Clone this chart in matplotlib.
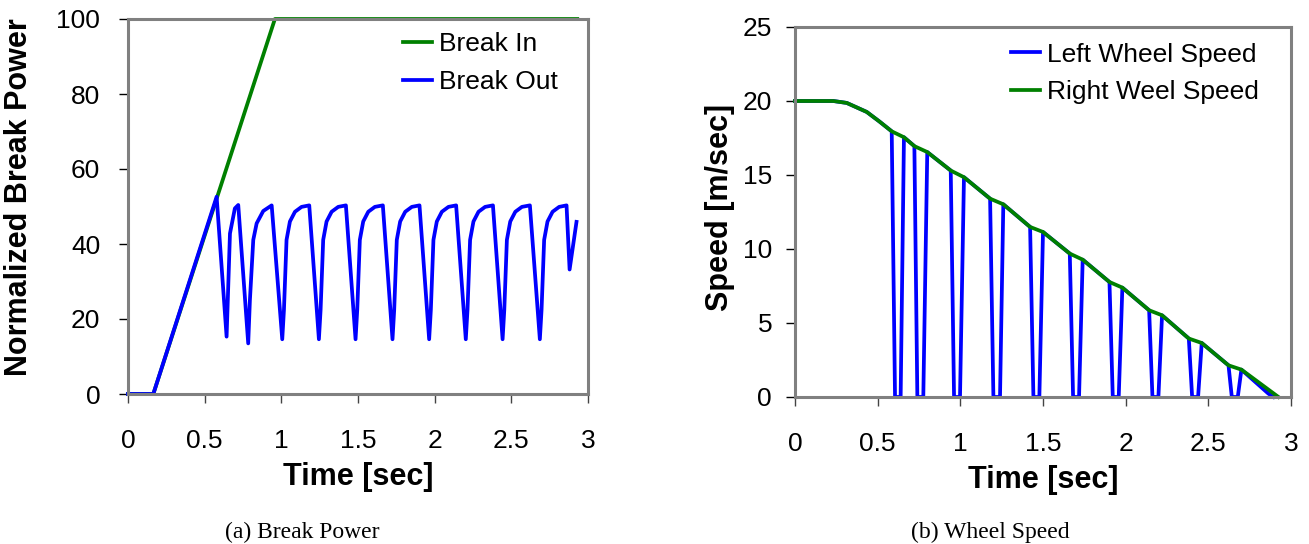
"""
Break power and wheel speed plots (two panels)
"""
import matplotlib
matplotlib.use('Agg')
import matplotlib.pyplot as plt

# --- panel (a): normalized break power ---
brk_in_t = [0.0, 0.165, 0.958, 2.93]
brk_in_v = [0.0, 0.0, 100.0, 100.0]

brk_out_t = [0.0, 0.165, 0.578, 0.643, 0.665, 0.697, 0.719, 0.784, 0.795, 0.817,
             0.839, 0.882, 0.937,
             1.006, 1.017, 1.034, 1.056, 1.089, 1.132, 1.182,
             1.245, 1.256, 1.273, 1.295, 1.328, 1.371, 1.421,
             1.484, 1.495, 1.512, 1.534, 1.567, 1.610, 1.662,
             1.725, 1.736, 1.753, 1.775, 1.808, 1.851, 1.901,
             1.964, 1.975, 1.992, 2.014, 2.047, 2.090, 2.140,
             2.203, 2.214, 2.231, 2.253, 2.286, 2.329, 2.380,
             2.443, 2.454, 2.471, 2.493, 2.526, 2.569, 2.621,
             2.686, 2.697, 2.714, 2.736, 2.769, 2.812, 2.860,
             2.880, 2.925]
brk_out_v = [0.0, 0.0, 52.6, 15.3, 42.8, 49.5, 50.4, 13.5, 25.0, 41.1,
             45.5, 48.8, 50.3,
             14.6, 22.4, 41.1, 46.0, 48.6, 49.9, 50.3,
             14.6, 22.4, 41.1, 46.0, 48.6, 49.9, 50.3,
             14.6, 22.4, 41.1, 46.0, 48.6, 49.9, 50.3,
             14.6, 22.4, 41.1, 46.0, 48.6, 49.9, 50.3,
             14.6, 22.4, 41.1, 46.0, 48.6, 49.9, 50.3,
             14.6, 22.4, 41.1, 46.0, 48.6, 49.9, 50.3,
             14.6, 22.4, 41.1, 46.0, 48.6, 49.9, 50.3,
             14.6, 22.4, 41.1, 46.0, 48.6, 49.9, 50.3,
             33.2, 45.9]

# --- panel (b): wheel speeds ---
right_t = [0.0, 0.232, 0.313, 0.434, 0.510, 0.585, 0.659, 0.722, 0.800,
           0.942, 1.022, 1.180, 1.260, 1.422, 1.500, 1.662, 1.740,
           1.902, 1.980, 2.142, 2.220, 2.382, 2.460, 2.622, 2.700, 2.924]
right_v = [20.0, 20.0, 19.87, 19.26, 18.62, 17.95, 17.55, 16.95, 16.55,
           15.30, 14.85, 13.40, 13.02, 11.49, 11.15, 9.69, 9.28,
           7.77, 7.39, 5.86, 5.52, 3.95, 3.65, 2.14, 1.85, 0.0]

left_t = [0.0, 0.232, 0.313, 0.434, 0.510,
          0.585, 0.605, 0.639, 0.659,
          0.722, 0.740, 0.776, 0.800,
          0.942, 0.962, 0.998, 1.022,
          1.180, 1.200, 1.240, 1.260,
          1.422, 1.442, 1.478, 1.500,
          1.662, 1.682, 1.718, 1.740,
          1.902, 1.922, 1.958, 1.980,
          2.142, 2.162, 2.198, 2.220,
          2.382, 2.402, 2.438, 2.460,
          2.622, 2.642, 2.678, 2.700,
          2.863, 2.894]
left_v = [20.0, 20.0, 19.87, 19.26, 18.62,
          17.95, 0.0, 0.0, 17.55,
          16.95, 0.0, 0.0, 16.55,
          15.30, 0.0, 0.0, 14.85,
          13.40, 0.0, 0.0, 13.02,
          11.49, 0.0, 0.0, 11.15,
          9.69, 0.0, 0.0, 9.28,
          7.77, 0.0, 0.0, 7.39,
          5.86, 0.0, 0.0, 5.52,
          3.95, 0.0, 0.0, 3.65,
          2.14, 0.0, 0.0, 1.85,
          0.23, 0.0]

time_ticks = [0, 0.5, 1, 1.5, 2, 2.5, 3]
time_labels = ['0', '0.5', '1', '1.5', '2', '2.5', '3']

plt.rcParams['font.family'] = ['Liberation Sans', 'DejaVu Sans']

GREEN = '#008000'
BLUE = '#0000FF'
SPINE = '#808080'


def style_axes(ax, ypad):
    for side in ['top', 'right', 'left', 'bottom']:
        ax.spines[side].set_color(SPINE)
        ax.spines[side].set_linewidth(2.2)
    ax.tick_params(axis='y', direction='out', length=6.5, width=1, color='black',
                   labelsize=19, pad=ypad)
    ax.tick_params(axis='x', direction='out', length=6.5, width=1, color='#444444',
                   labelsize=19, pad=19)
    ax.set_xlim(0, 3)
    ax.set_xticks(time_ticks)
    ax.set_xticklabels(time_labels)
    ax.set_xlabel('Time [sec]', fontsize=22, fontweight='bold', labelpad=6)


fig = plt.figure(figsize=(13.09, 5.44), dpi=100)

# (a) Break Power
ax1 = fig.add_axes([128 / 1309, 150 / 544, 460 / 1309, 375 / 544])
ax1.plot(brk_in_t, brk_in_v, color=GREEN, linewidth=2.7, label='Break In',
         clip_on=False, solid_joinstyle='round')
ax1.plot(brk_out_t, brk_out_v, color=BLUE, linewidth=2.7, label='Break Out',
         clip_on=False, solid_joinstyle='round')
ax1.set_ylim(0, 100)
ax1.set_yticks([0, 20, 40, 60, 80, 100])
style_axes(ax1, 13.5)
ax1.set_ylabel('Normalized Break Power', fontsize=22, fontweight='bold')
ax1.yaxis.set_label_coords(-0.205, 0.526)
ax1.legend(loc='upper left', bbox_to_anchor=(0.598, 0.965), frameon=False,
           fontsize=19, handlelength=1.1, handletextpad=0.25, labelspacing=0.52,
           borderpad=0, borderaxespad=0)

# (b) Wheel Speed
ax2 = fig.add_axes([795 / 1309, 147 / 544, 496 / 1309, 370 / 544])
ax2.plot(left_t, left_v, color=BLUE, linewidth=2.7, label='Left Wheel Speed',
         clip_on=False, solid_joinstyle='round')
ax2.plot(right_t, right_v, color=GREEN, linewidth=2.7, label='Right Weel Speed',
         clip_on=False, solid_joinstyle='round')
ax2.set_ylim(0, 25)
ax2.set_yticks([0, 5, 10, 15, 20, 25])
style_axes(ax2, 10)
ax2.set_ylabel('Speed [m/sec]', fontsize=22, fontweight='bold')
ax2.yaxis.set_label_coords(-0.12, 0.511)
ax2.legend(loc='upper left', bbox_to_anchor=(0.436, 0.958), frameon=False,
           fontsize=19, handlelength=1.1, handletextpad=0.25, labelspacing=0.52,
           borderpad=0, borderaxespad=0)

# captions
fig.text(302 / 1309, 12 / 544, '(a) Break Power', ha='center', va='center',
         fontsize=17, family=['Liberation Serif', 'DejaVu Serif'])
fig.text(990 / 1309, 12 / 544, '(b) Wheel Speed', ha='center', va='center',
         fontsize=17, family=['Liberation Serif', 'DejaVu Serif'])

fig.savefig('out.png', dpi=100, facecolor='white')
